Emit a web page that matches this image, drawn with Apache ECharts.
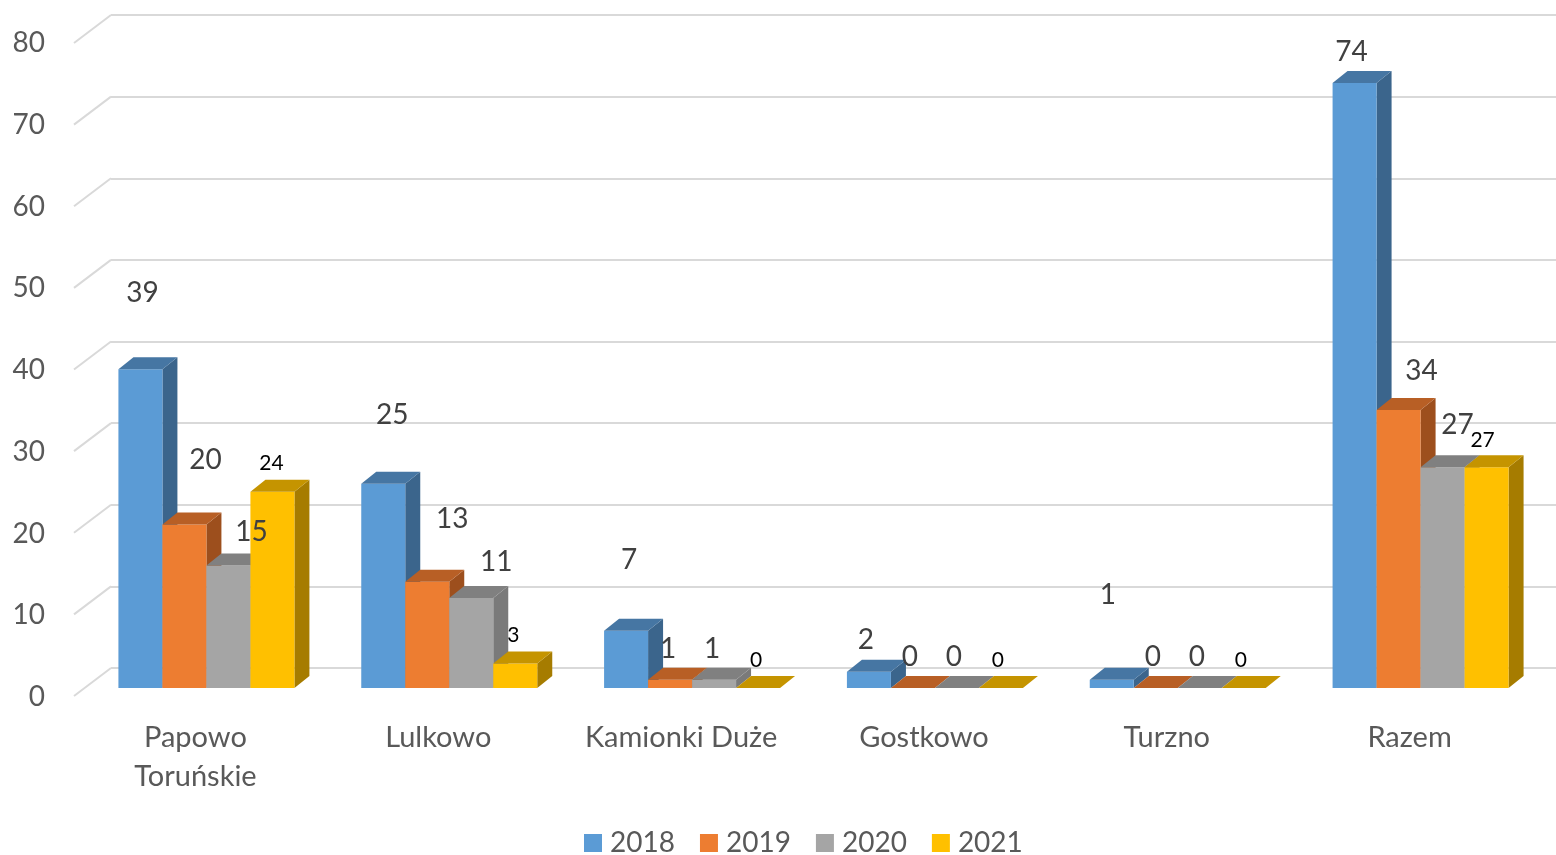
<!DOCTYPE html>
<html>
<head>
<meta charset="utf-8">
<script src="https://cdn.jsdelivr.net/npm/echarts@6/dist/echarts.min.js"></script>
<style>
  html, body { margin: 0; padding: 0; background: #fff; }
  #chart { width: 1556px; height: 855px; }
</style>
</head>
<body>
<div id="chart"></div>
<script>
var categories = ['Papowo\nToruńskie', 'Lulkowo', 'Kamionki Duże', 'Gostkowo', 'Turzno', 'Razem'];
var years = ['2018', '2019', '2020', '2021'];
var v2018 = [39, 25, 7, 2, 1, 74];
var v2019 = [20, 13, 1, 0, 0, 34];
var v2020 = [15, 11, 1, 0, 0, 27];
var v2021 = [24, 3, 0, 0, 0, 27];
var yTicks = [0, 10, 20, 30, 40, 50, 60, 70, 80];

// where Excel put each data label, relative to the bar's front top (px)
var nudge2018 = [[2, -76], [9, -69], [3, -71], [-3, -32], [-4, -85], [-3, -31]];
var nudge2019 = [[21, -65], [25, -63], [-2, -31], [-3, -31], [-3, -31], [23, -39]];
var nudge2020 = [[23, -33], [25, -36], [-2, -31], [-3, -31], [-3, -31], [15, -42]];
var nudge2021 = [[-1, -29], [-2, -28], [-2, -28], [-3, -28], [-3, -28], [-4, -27]];

var values = [v2018, v2019, v2020, v2021];
var nudges = [nudge2018, nudge2019, nudge2020, nudge2021];
var fronts = ['#5B9BD5', '#ED7D31', '#A5A5A5', '#FFC000'];
var tops = ['#4676A3', '#B85F25', '#808080', '#C59400'];
var sides = ['#3B658C', '#9D4F1D', '#7A7A7A', '#A67C00'];

var font = 'Lato';
var barW = 44, depthX = 15, depthY = 12;

function barSeries(i) {
    return {
        name: years[i],
        type: 'custom',
        xAxisIndex: 0,
        yAxisIndex: 0,
        itemStyle: {color: fronts[i]},
        data: values[i].map(function (v, k) { return [k, v]; }),
        renderItem: function (params, api) {
            var k = api.value(0), v = api.value(1);
            var base = api.coord([k, 0]);
            var top = api.coord([k, v]);
            var x0 = base[0] - 77 + i * barW, x1 = x0 + barW;
            var y0 = base[1] - 9, y1 = top[1] - 9;
            var nd = nudges[i][k];
            var small = i === 3;
            return {
                type: 'group',
                children: [
                    {
                        type: 'polygon',
                        shape: {points: [[x1, y1], [x1 + depthX, y1 - depthY], [x1 + depthX, y0 - depthY], [x1, y0]]},
                        style: {fill: sides[i]}
                    },
                    {
                        type: 'rect',
                        shape: {x: x0, y: y1, width: barW, height: y0 - y1},
                        style: {fill: fronts[i]}
                    },
                    {
                        type: 'polygon',
                        shape: {points: [[x0, y1], [x1, y1], [x1 + depthX, y1 - depthY], [x0 + depthX, y1 - depthY]]},
                        style: {fill: tops[i]}
                    },
                    {
                        type: 'text',
                        z2: 100,
                        x: x0 + barW / 2 + nd[0],
                        y: y1 + nd[1],
                        style: {
                            text: String(v),
                            fontFamily: font,
                            fontSize: small ? 21 : 28,
                            fill: small ? '#000000' : '#404040',
                            align: 'center',
                            verticalAlign: 'middle'
                        }
                    }
                ]
            };
        }
    };
}

var dom = document.getElementById('chart');
var myChart = echarts.init(dom);

var series = [
    {
        // diagonal part of the wall gridlines on the left
        type: 'custom',
        xAxisIndex: 1,
        yAxisIndex: 1,
        silent: true,
        z: 1,
        data: yTicks.map(function (t) { return [0, t]; }),
        renderItem: function (params, api) {
            var p = api.coord([0, api.value(1)]);
            return {
                type: 'line',
                shape: {x1: p[0] - 37, y1: p[1] + 28, x2: p[0], y2: p[1]},
                style: {stroke: '#D9D9D9', lineWidth: 2}
            };
        }
    }
];
for (var i = 0; i < 4; i++) {
    series.push(barSeries(i));
}

var option = {
    animation: false,
    legend: {
        data: years,
        left: 579,
        top: 824,
        icon: 'rect',
        itemWidth: 18,
        itemHeight: 18,
        itemGap: 25,
        textStyle: {fontFamily: font, fontSize: 28, color: '#595959', padding: [0, 0, 0, 3]}
    },
    grid: [
        {left: 74, right: 25, top: 43, bottom: 158},
        {left: 111, right: 0, top: 15, bottom: 187}
    ],
    xAxis: [
        {
            type: 'category',
            gridIndex: 0,
            data: categories,
            axisLine: {show: false},
            axisTick: {show: false},
            axisLabel: {
                interval: 0,
                hideOverlap: false,
                fontFamily: font,
                fontSize: 29,
                color: '#595959',
                margin: 21,
                lineHeight: 39
            }
        },
        {type: 'value', gridIndex: 1, min: 0, max: 1, show: false}
    ],
    yAxis: [
        {
            type: 'value',
            gridIndex: 0,
            min: 0,
            max: 80,
            interval: 10,
            axisLine: {show: false},
            axisTick: {show: false},
            splitLine: {show: false},
            axisLabel: {fontFamily: font, fontSize: 28, color: '#595959', margin: 29}
        },
        {
            type: 'value',
            gridIndex: 1,
            min: 0,
            max: 80,
            interval: 10,
            axisLine: {show: false},
            axisTick: {show: false},
            axisLabel: {show: false},
            splitLine: {lineStyle: {color: '#D9D9D9', width: 2}}
        }
    ],
    series: series
};

if (option && typeof option === 'object') {
    myChart.setOption(option, true);
}
</script>
</body>
</html>
